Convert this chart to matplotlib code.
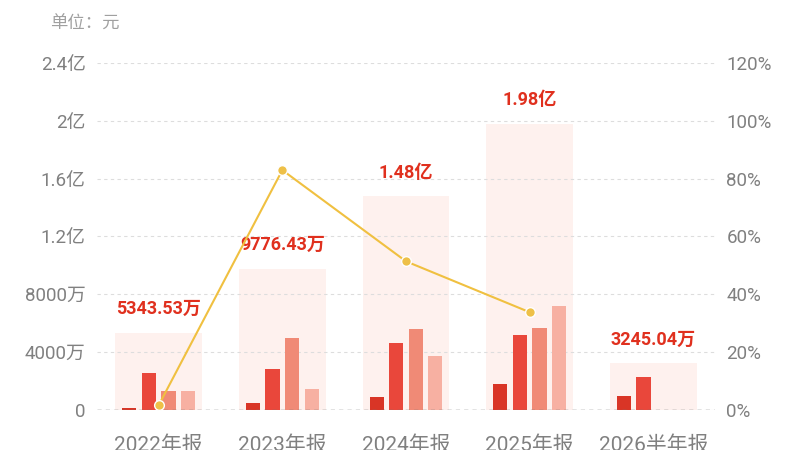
import matplotlib
matplotlib.use("Agg")
import matplotlib.pyplot as plt
import numpy as np

plt.rcParams['font.family'] = ['Roboto', 'Noto Sans CJK SC', 'DejaVu Sans']

# data, unit: 万元
categories = ['2022年报', '2023年报', '2024年报', '2025年报', '2026半年报']
totals = [5343.53, 9776.43, 14800, 19800, 3245.04]
total_labels = ['5343.53万', '9776.43万', '1.48亿', '1.98亿', '3245.04万']
q1 = [150, 480, 920, 1780, 950]
q2 = [2560, 2840, 4620, 5170, 2300]
q3 = [1320, 5000, 5590, 5700, None]
q4 = [1320, 1470, 3740, 7220, None]
growth = [1.6, 82.96, 51.4, 33.8]  # 同比 %

y_ticks = [0, 4000, 8000, 12000, 16000, 20000, 24000]
y_ticklabels = ['0', '4000万', '8000万', '1.2亿', '1.6亿', '2亿', '2.4亿']
r_ticks = [0, 20, 40, 60, 80, 100, 120]
r_ticklabels = ['0%', '20%', '40%', '60%', '80%', '100%', '120%']

quarter_colors = ['#d93526', '#e9473b', '#f08a76', '#f7b0a2']
grey = '#808080'

fig = plt.figure(figsize=(8, 4.5), dpi=100)
ax = fig.add_axes([0.121, 0.089, 0.773, 0.771])
x = np.arange(len(categories))

# background total bars
ax.bar(x, totals, width=0.7, color='#fef1ee', zorder=1)

# quarter bars
w = 0.115
step = 0.158
for i, qs in enumerate([q1, q2, q3, q4]):
    xs = [xi + (i - 1.5) * step for xi, v in zip(x, qs) if v is not None]
    vals = [v for v in qs if v is not None]
    ax.bar(xs, vals, width=w, color=quarter_colors[i], zorder=2)

for xi, t, lab in zip(x, totals, total_labels):
    ax.text(xi, t + 1000, lab, ha='center', va='bottom', color='#e0301e',
            fontsize=13, fontweight='bold', zorder=5)

ax.set_xlim(-0.5, len(categories) - 0.5)
ax.set_ylim(0, 24000)
ax.set_yticks(y_ticks)
ax.set_yticklabels(y_ticklabels)
ax.set_xticks(x)
ax.set_xticklabels(categories)

ax.grid(axis='y', color='#dddddd', linestyle=(0, (3, 3)), linewidth=0.8, zorder=0)
ax.axhline(0, color='#777777', linestyle=(0, (3, 3)), linewidth=1, zorder=3)
for s in ax.spines.values():
    s.set_visible(False)
ax.tick_params(axis='both', length=0, colors=grey, labelsize=13.5)
ax.tick_params(axis='y', pad=8)
ax.tick_params(axis='x', pad=18, labelsize=15)

ax2 = ax.twinx()
ax2.set_ylim(0, 120)
ax2.set_yticks(r_ticks)
ax2.set_yticklabels(r_ticklabels)
ax2.tick_params(axis='y', length=0, colors=grey, labelsize=13.5, pad=8)
for s in ax2.spines.values():
    s.set_visible(False)
ax2.plot(x[:len(growth)], growth, color='#f0c040', linewidth=1.5, marker='o',
         markersize=7, markerfacecolor='#eec048', markeredgecolor='white',
         markeredgewidth=1, zorder=6)

fig.text(0.063, 0.947, '单位：元', color='#a0a0a0', fontsize=12.5, ha='left', va='center')

fig.savefig('out.png', dpi=100)
